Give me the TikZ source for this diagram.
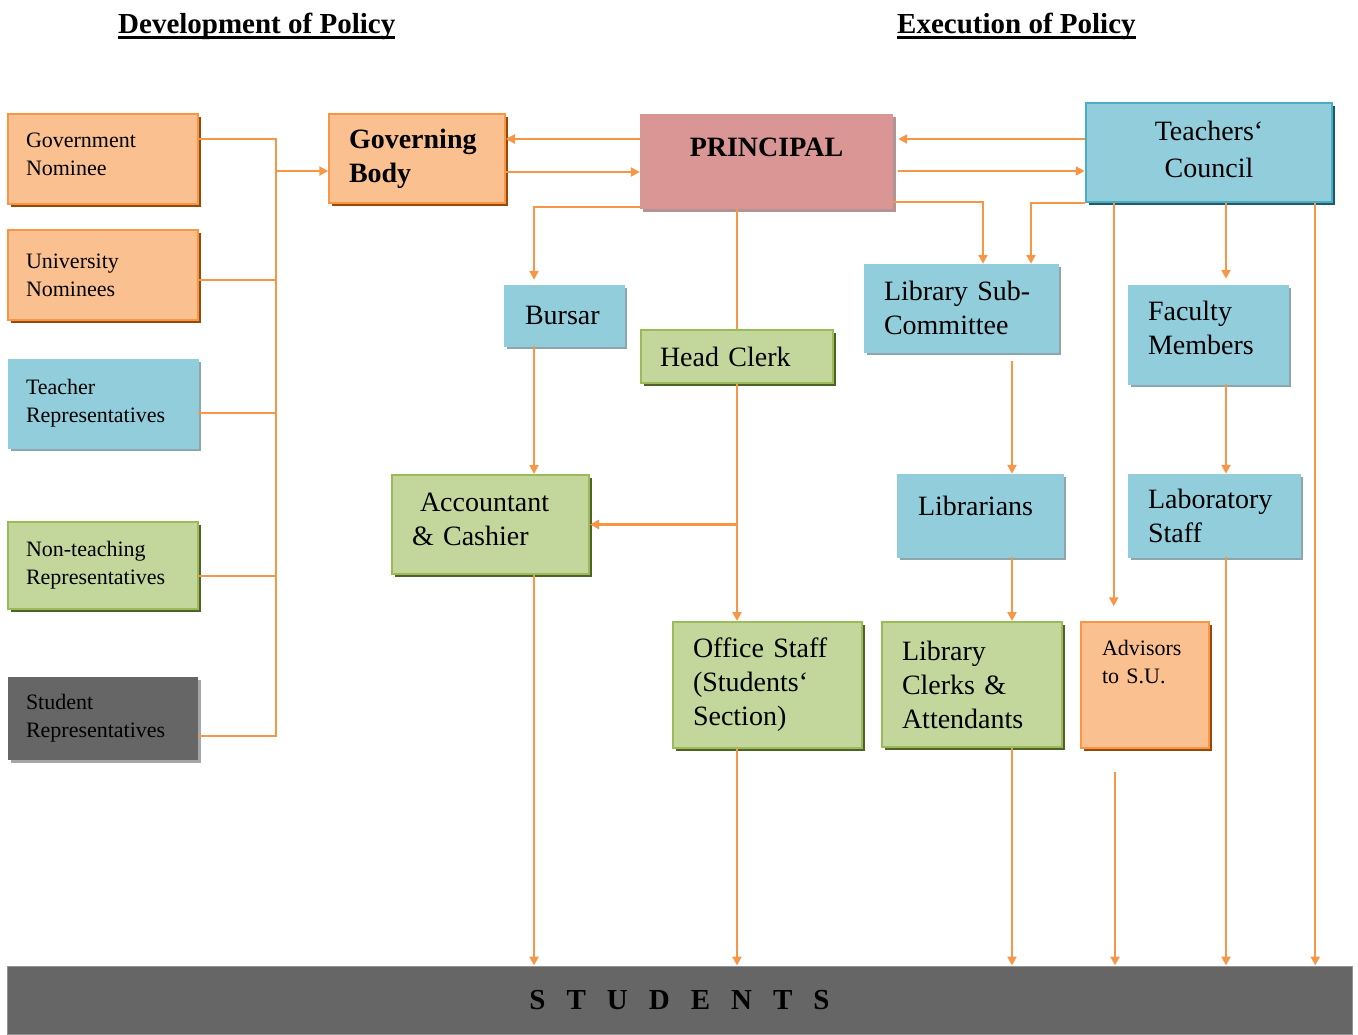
\documentclass[tikz,border=0pt]{standalone}
\usepackage{fontspec}
\setmainfont{Liberation Serif}
\usetikzlibrary{arrows.meta,shadows}

\definecolor{orfill}{HTML}{FAC090}
\definecolor{orline}{HTML}{F79646}
\definecolor{orshade}{HTML}{984807}
\definecolor{blfill}{HTML}{92CDDC}
\definecolor{blshade}{HTML}{8DA6AE}
\definecolor{tcline}{HTML}{4BACC6}
\definecolor{tcshade}{HTML}{215968}
\definecolor{grfill}{HTML}{C3D69B}
\definecolor{grline}{HTML}{9BBB59}
\definecolor{grshade}{HTML}{4F6228}
\definecolor{pkfill}{HTML}{D99694}
\definecolor{pkshade}{HTML}{B39393}
\definecolor{dkfill}{HTML}{666666}
\definecolor{dkshade}{HTML}{A6A6A6}
\definecolor{wire}{HTML}{F79646}

\newcommand{\smalltxt}{\fontsize{22}{28}\selectfont}
\newcommand{\largetxt}{\fontsize{28}{34}\selectfont}

\begin{document}
\begin{tikzpicture}[x=1pt, y=-1pt,
  cell/.style={rectangle, inner ysep=0pt, align=left},
  shd/.style={drop shadow={shadow xshift=3pt, shadow yshift=-3pt, opacity=1, fill=#1}},
  orbox/.style={cell, fill=orfill, draw=orline, line width=1.5pt, shd=orshade},
  blbox/.style={cell, fill=blfill, draw=blfill, shd=blshade},
  grbox/.style={cell, fill=grfill, draw=grline, line width=2pt, shd=grshade},
  lbox/.style={minimum width=190pt, text width=154pt, inner xsep=18pt, font=\smalltxt},
  title/.style={font=\fontsize{29}{30}\selectfont\bfseries, inner sep=0pt, anchor=base west},
  link/.style={draw=wire, line width=2.2pt},
  arr/.style={link, -{Triangle[length=9pt, width=9pt]}}]
\useasboundingbox (0,0) rectangle (1358,1034);

\node[title] (devt) at (118,33) {Development of Policy};
\node[title] (exec) at (897,33) {Execution of Policy};
\draw[line width=3pt] ([yshift=-4pt]devt.base west) -- ([yshift=-4pt]devt.base east);
\draw[line width=3pt] ([yshift=-4pt]exec.base west) -- ([yshift=-4pt]exec.base east);

\node[orbox, lbox, minimum height=90pt, text depth=37pt] (gov) at (103,159) {Government\\Nominee};
\node[orbox, lbox, minimum height=90pt] (uni) at (103,275) {University\\Nominees};
\node[blbox, lbox, minimum height=89pt] (trep) at (103,403.5) {Teacher\\Representatives};
\node[grbox, lbox, minimum height=87pt] (ntrep) at (103,565.5) {Non-teaching\\Representatives};
\node[cell, fill=dkfill, shd=dkshade, lbox, minimum height=83pt] (srep) at (103,718.5) {Student\\Representatives};

\node[orbox, minimum width=176pt, minimum height=89pt, inner xsep=20pt, text width=136pt, font=\largetxt\bfseries] (gb) at (417,158.5) {Governing\\Body};
\node[cell, fill=pkfill, shd=pkshade, minimum width=253pt, minimum height=95pt, align=center, font=\largetxt\bfseries, text depth=28pt] (pr) at (766.5,161.5) {PRINCIPAL};
\node[cell, fill=blfill, draw=tcline, line width=2.5pt, shd=tcshade, minimum width=246pt, minimum height=99pt, align=center, font=\largetxt, text depth=7pt] (tc) at (1209,152.5) {Teachers‘\\[3pt]Council};

\node[blbox, minimum width=120pt, minimum height=61pt, inner xsep=21pt, text width=78pt, font=\largetxt] (bursar) at (564,315.5) {Bursar};
\node[grbox, minimum width=192pt, minimum height=53pt, inner xsep=19pt, text width=154pt, font=\largetxt] (hclerk) at (737,356.5) {Head Clerk};
\node[grbox, minimum width=197pt, minimum height=99pt, inner xsep=20pt, text width=157pt, font=\largetxt, text depth=44pt] (acc) at (490.5,524.5) {\hspace*{8pt}Accountant\\\& Cashier};
\node[grbox, minimum width=189pt, minimum height=126pt, inner xsep=20pt, text width=149pt, font=\largetxt] (office) at (767.5,685) {Office Staff\\(Students‘\\Section)};

\node[blbox, minimum width=194pt, minimum height=88pt, inner xsep=20pt, text width=154pt, font=\largetxt] (libsub) at (961,308) {Library Sub-\\Committee};
\node[blbox, minimum width=166pt, minimum height=83pt, inner xsep=21pt, text width=124pt, font=\largetxt, text depth=20pt] (libr) at (980,515.5) {Librarians};
\node[grbox, minimum width=180pt, minimum height=125pt, inner xsep=20pt, text width=140pt, font=\largetxt] (libclk) at (972,684.5) {Library\\Clerks \&\\Attendants};
\node[orbox, minimum width=128pt, minimum height=126pt, inner xsep=21pt, text width=86pt, font=\smalltxt, text depth=75pt] (adv) at (1145,685) {Advisors\\to S.U.};
\node[blbox, minimum width=160pt, minimum height=99pt, inner xsep=20pt, text width=120pt, font=\largetxt, text depth=47pt] (fac) at (1208,334.5) {Faculty\\Members};
\node[blbox, minimum width=172pt, minimum height=83pt, inner xsep=20pt, text width=132pt, font=\largetxt] (lab) at (1214,515.5) {Laboratory\\Staff};

\node[fill=dkfill, draw=dkfill!70!white, line width=1pt, minimum width=1345pt, minimum height=68pt, inner sep=0pt, font={\fontsize{29}{30}\selectfont\bfseries\spaceskip=21pt\relax}] (stu) at (679.5,1000) {S T U D E N T S};

\coordinate (bus) at (276,171);
\draw[link] ([yshift=20pt]gov.east) -| (bus) |- ([yshift=-17.5pt]srep.east);
\draw[link] ([yshift=-5pt]uni.east) -- ++(78,0);
\draw[link] ([yshift=-9.5pt]trep.east) -- ++(78,0);
\draw[link] ([yshift=-10.5pt]ntrep.east) -- ++(78,0);
\draw[arr] (bus) -- (bus -| gb.west);

\draw[arr] ([yshift=22.5pt]pr.west) coordinate (p) -- (p -| gb.east);
\draw[arr] ([yshift=-13.5pt]gb.east) coordinate (p) -- (p -| pr.west);
\draw[arr, shorten >=5pt] ([yshift=13.5pt]tc.west) coordinate (p) -- (p -| pr.east);
\draw[arr, shorten <=5pt] ([yshift=-9.5pt]pr.east) coordinate (p) -- (p -| tc.west);

\draw[arr, shorten >=5pt] ([yshift=2pt]pr.south west) -| ([xshift=-30pt]bursar.north);
\draw[link] (hclerk.north |- pr.south) -- (hclerk.north);
\draw[arr] (hclerk.south) -- (hclerk.south |- office.north);
\draw[arr] (hclerk.south |- acc.east) -- (acc.east);
\draw[arr] ([xshift=-30pt]bursar.south) coordinate (p) -- (p |- acc.north);
\draw[arr] ([xshift=43.5pt]acc.south) coordinate (p) -- (p |- stu.north);
\draw[arr] (hclerk.south |- office.south) -- (hclerk.south |- stu.north);

\draw[arr] ([yshift=7pt]pr.south east) -| ([xshift=22pt]libsub.north);
\draw[arr] (tc.south west) -| ([xshift=70pt]libsub.north);
\draw[arr, shorten <=9pt] ([xshift=51pt]libsub.south) coordinate (p) -- (p |- libr.north);
\draw[arr] ([xshift=32pt]libr.south) coordinate (p) -- (p |- libclk.north);
\draw[arr] ([xshift=40pt]libclk.south) coordinate (p) -- (p |- stu.north);

\draw[arr, shorten >=15pt] ([xshift=29pt]tc.south west) coordinate (p) -- (p |- adv.north);
\draw[arr, shorten <=23pt] ([xshift=-30pt]adv.south) coordinate (p) -- (p |- stu.north);
\draw[arr, shorten >=6pt] ([xshift=17pt]tc.south) coordinate (p) -- (p |- fac.north);
\draw[arr] ([xshift=18pt]fac.south) coordinate (p) -- (p |- lab.north);
\draw[arr] ([xshift=12pt]lab.south) coordinate (p) -- (p |- stu.north);
\draw[arr] ([xshift=-18pt]tc.south east) coordinate (p) -- (p |- stu.north);
\end{tikzpicture}
\end{document}
